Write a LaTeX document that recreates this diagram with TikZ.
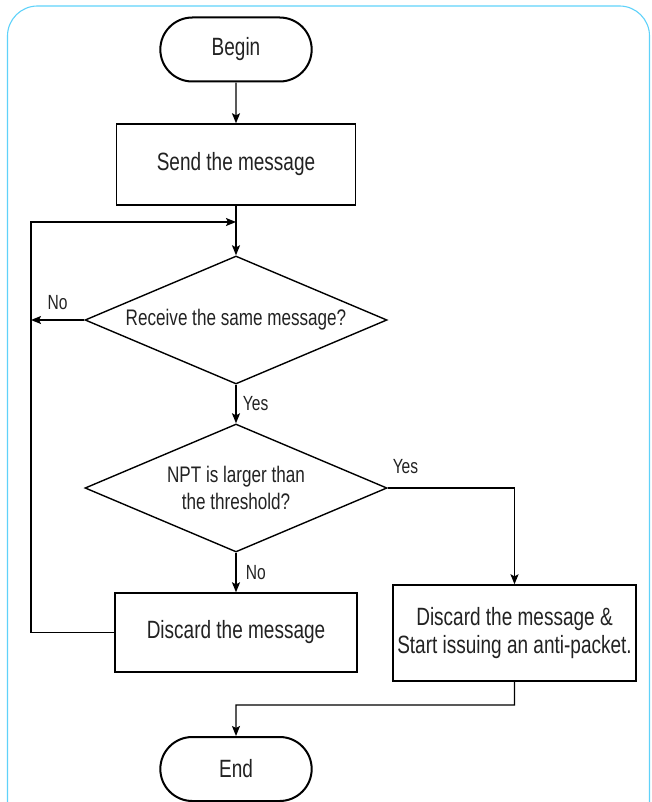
\documentclass[tikz,border=0pt]{standalone}
\usepackage{fontspec}
\setmainfont{Liberation Sans}[FakeStretch=0.76]
\usepackage{xcolor}
\usepackage{tikz}
\usetikzlibrary{shapes.geometric,shapes.misc,arrows.meta,positioning}
\definecolor{framecol}{RGB}{95,210,250}
\definecolor{ink}{RGB}{34,34,34}
\tikzset{terminal/.style={draw,rounded rectangle,line width=2pt,minimum width=158pt,
        minimum height=64pt,text=ink,font=\fontsize{25}{28}\selectfont},
    process/.style={draw,rectangle,line width=1.4pt,align=center,text=ink,
        font=\fontsize{25}{28}\selectfont},
    decision/.style={draw,diamond,aspect=2.36,inner sep=0pt,minimum width=302pt,
        minimum height=128pt,line width=1.4pt,align=center,text=ink,
        font=\fontsize{22.5}{27}\selectfont},
    tag/.style={text=ink,font=\fontsize{20.5}{22}\selectfont},
    arr/.style={draw,line width=1.3pt,-{Stealth[length=10pt,width=8pt,inset=2pt]}}}

\begin{document}
\begin{tikzpicture}[x=1pt,y=-1pt]
            \useasboundingbox (0,0) rectangle (651,802);
            \clip (0,0) rectangle (651,802);
            \draw[framecol,line width=1.1pt,rounded corners=30pt] (7.5,6) rectangle (649.5,880);

            \node[terminal] (start) at (236,49.5) {Begin};
            \node[process,minimum width=239pt,minimum height=81pt] (send) at (236,164.5) {Send the message};
            \node[decision] (same) at (236,320) {Receive the same message?};
            \node[decision] (npt) at (236,488) {NPT is larger than\\the threshold?};
            \node[process,minimum width=242pt,minimum height=79pt] (drop) at (236,632.5) {Discard the message};
            \node[process,minimum width=243pt,minimum height=96pt] (anti) at (514.5,633) {Discard the message \&\\Start issuing an anti-packet.};
            \node[terminal] (finish) at (236,769) {End};

            \coordinate (back) at (31,222);
            \coordinate (elbow) at (236,705);

            \draw[arr] (start) -- (send);
            \draw[arr] (send) -- (same);
            \draw[arr] (same.west) -- (same.west -| back) node[tag,midway,above=6pt] {No};
            \draw[arr] (drop.west) -| (back) -- (back -| send);
            \draw[arr] (same) -- (npt) node[tag,midway,right=3pt] {Yes};
            \draw[arr] (npt) -- (drop) node[tag,midway,right=6pt] {No};
            \draw[arr] (npt.east) -| (anti) node[tag,pos=0.02,above right=10pt and -4pt] {Yes};
            \draw[arr] (anti.south) |- (elbow) -- (finish);
        \end{tikzpicture}
\end{document}
